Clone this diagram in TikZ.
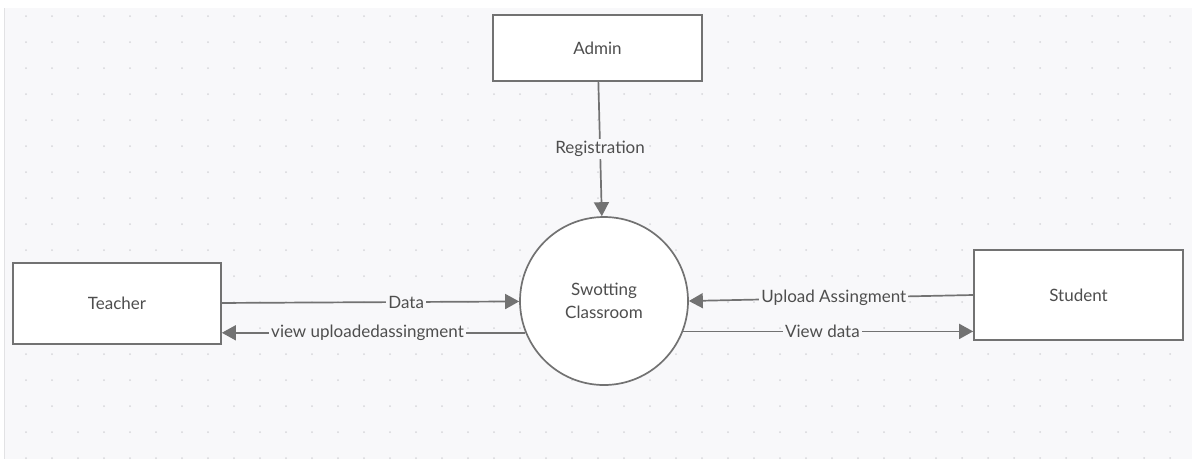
\documentclass[tikz,border=0pt]{standalone}
\usepackage{fontspec}
\setmainfont{Lato}
\usetikzlibrary{arrows.meta}

\definecolor{PanelGray}{HTML}{F8F8FA}
\definecolor{PanelEdge}{HTML}{E2E2E4}
\definecolor{DotGray}{HTML}{D6D6DA}
\definecolor{LineGray}{HTML}{727272}
\definecolor{TextGray}{HTML}{4E4E4E}

\begin{document}
\begin{tikzpicture}[x=1pt,y=-1pt,
every node/.style={font=\fontsize{17}{23}\selectfont,text=TextGray},
entity/.style={draw=LineGray,line width=1.7pt,fill=white,inner sep=0pt},
flow/.style={draw=LineGray,line width=1.7pt,-{Triangle[length=14pt,width=15pt]}},
flowlabel/.style={fill=PanelGray,inner sep=2pt}
]
\useasboundingbox (0,0) rectangle (1192,459);
%panel
\fill[PanelGray] (4,8) rectangle (1192,459);
\draw[PanelEdge,line width=1pt] (4,8) -- (4,459);
\foreach \i in {1,...,45}
  \foreach \j in {0,...,17}
    \fill[DotGray] (26*\i,16+26*\j) circle (1pt);

%entities
\node[entity,minimum width=209pt,minimum height=66pt] (Admin) at (597.5,48) {Admin};
\node[entity,minimum width=208pt,minimum height=81pt] (Teacher) at (117,303.5) {Teacher};
\node[entity,minimum width=209pt,minimum height=90pt] (Student) at (1078.5,295) {Student};
\node[entity,circle,minimum size=168pt,align=center] (Swotting) at (604,301) {Swotting\\Classroom};

%flows
\draw[flow] (Admin) -- node[flowlabel] {Registration} (Swotting);
\draw[flow] (Teacher) -- node[flowlabel,pos=0.62] {Data} (Swotting);
\draw[flow] (Swotting.202) -- node[flowlabel,pos=0.52] {view uploadedassingment} (Swotting.202 -| Teacher.east);
\draw[flow] (Student.west) -- node[flowlabel,pos=0.49] {Upload Assingment} (Swotting.east);
\draw[flow] (Swotting.-21) -- node[flowlabel,pos=0.48] {View data} (Swotting.-21 -| Student.west);
\end{tikzpicture}
\end{document}
